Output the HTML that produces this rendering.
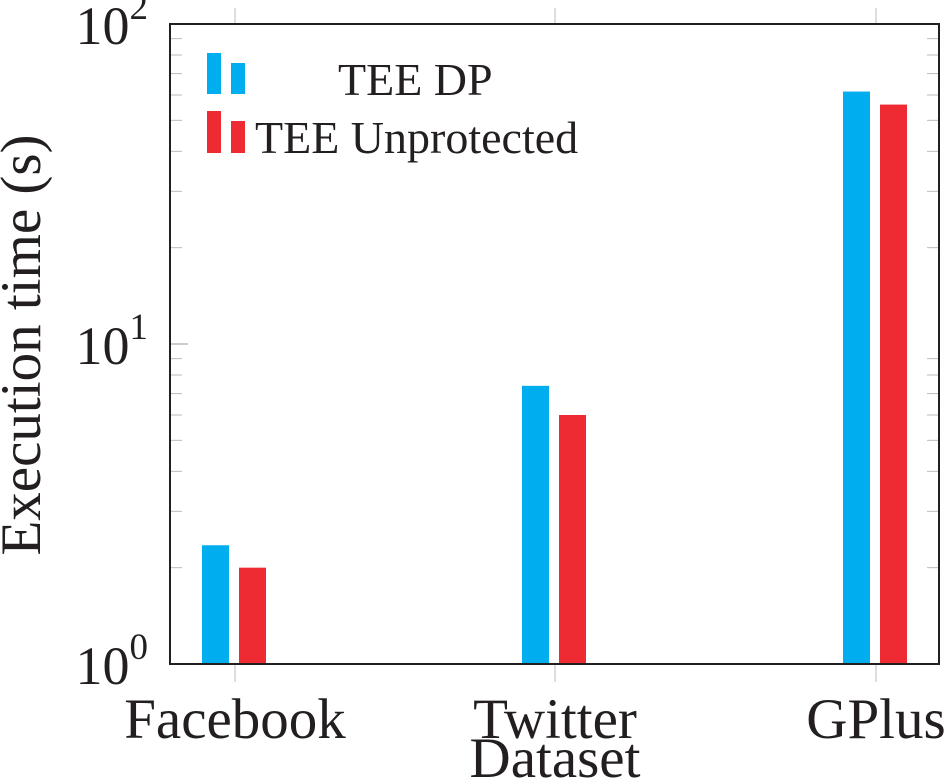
<!DOCTYPE html>
<html><head><meta charset="utf-8"><style>
body{margin:0;background:#fff;}
svg{display:block;font-family:"Liberation Serif",serif;}
</style></head><body>
<svg id="chart" width="945" height="783"></svg>
<script>
const categories=["Facebook","Twitter","GPlus"];
const dpValues=[2.35,7.4,61.5];
const unprotValues=[2.0,6.0,56];
const yTickExps=[0,1,2];
const NS="http://www.w3.org/2000/svg";
const svg=document.getElementById('chart');
const L=170,R=939,T=24,B=664;
const catX=[235,555,876];
function y(v){return B-(Math.log10(v)-0)/2*(B-T);}
function mk(t,a,p){const e=document.createElementNS(NS,t);for(const k in a)e.setAttribute(k,a[k]);(p||svg).appendChild(e);return e;}
for(let d=0;d<2;d++)for(let m=2;m<=9;m++){const yy=y(m*Math.pow(10,d));
 const a=mk('line',{x1:L,x2:L+12,y1:yy,y2:yy,stroke:'#bbb','stroke-width':1});
 
 const b=mk('line',{x1:R-12,x2:R,y1:yy,y2:yy,stroke:'#bbb','stroke-width':1});
 }
yTickExps.forEach(e=>{const yy=y(Math.pow(10,e));
 const a=mk('line',{x1:L,x2:L+18,y1:yy,y2:yy,stroke:'#999','stroke-width':1});
 
 const t=mk('text',{x:L-22,y:yy+20,'font-size':54,'text-anchor':'end',fill:'#231f20'});
 
 t.textContent='10';const s=mk('tspan',{dy:-25,'font-size':37},t);s.textContent=String(e);
});
catX.forEach((cx,i)=>{
 const a=mk('line',{x1:cx,x2:cx,y1:B,y2:B+18,stroke:'#bbb','stroke-width':1});
 
 const b=mk('line',{x1:cx,x2:cx,y1:T-16,y2:T,stroke:'#bbb','stroke-width':1});
 
 const r1=mk('rect',{x:cx-33,y:y(dpValues[i]),width:27,height:B-y(dpValues[i]),fill:'#00aeef'});
 
 const r2=mk('rect',{x:cx+4,y:y(unprotValues[i]),width:27,height:B-y(unprotValues[i]),fill:'#ee2a33'});
 
 const t=mk('text',{x:cx,y:738,'font-size':57,'text-anchor':'middle',fill:'#231f20'});
 
 t.textContent=categories[i];
});
const fr=mk('rect',{x:L,y:T,width:R-L,height:B-T,fill:'none',stroke:'#231f20','stroke-width':2});

const xt=mk('text',{x:555,y:777,'font-size':57,'text-anchor':'middle',fill:'#231f20'});

xt.textContent='Dataset';
const yt=mk('text',{x:0,y:0,'font-size':57,'text-anchor':'middle',fill:'#231f20',transform:'translate(40,345) rotate(-90)'});

yt.textContent='Execution time (s)';
const lg=mk('g',{});

[[207,53,'#00aeef'],[231,63,'#00aeef'],[207,111,'#ee2a33'],[231,121,'#ee2a33']].forEach(s=>{
 const r=mk('rect',{x:s[0],y:s[1],width:14,height:(s[1]<100?94:153)-s[1],fill:s[2]},lg);
 });
const l1=mk('text',{x:338,y:95,'font-size':46,fill:'#231f20'},lg);
l1.textContent='TEE DP';
const l2=mk('text',{x:255,y:153,'font-size':46,fill:'#231f20'},lg);
l2.textContent='TEE Unprotected';
</script>
</body></html>
